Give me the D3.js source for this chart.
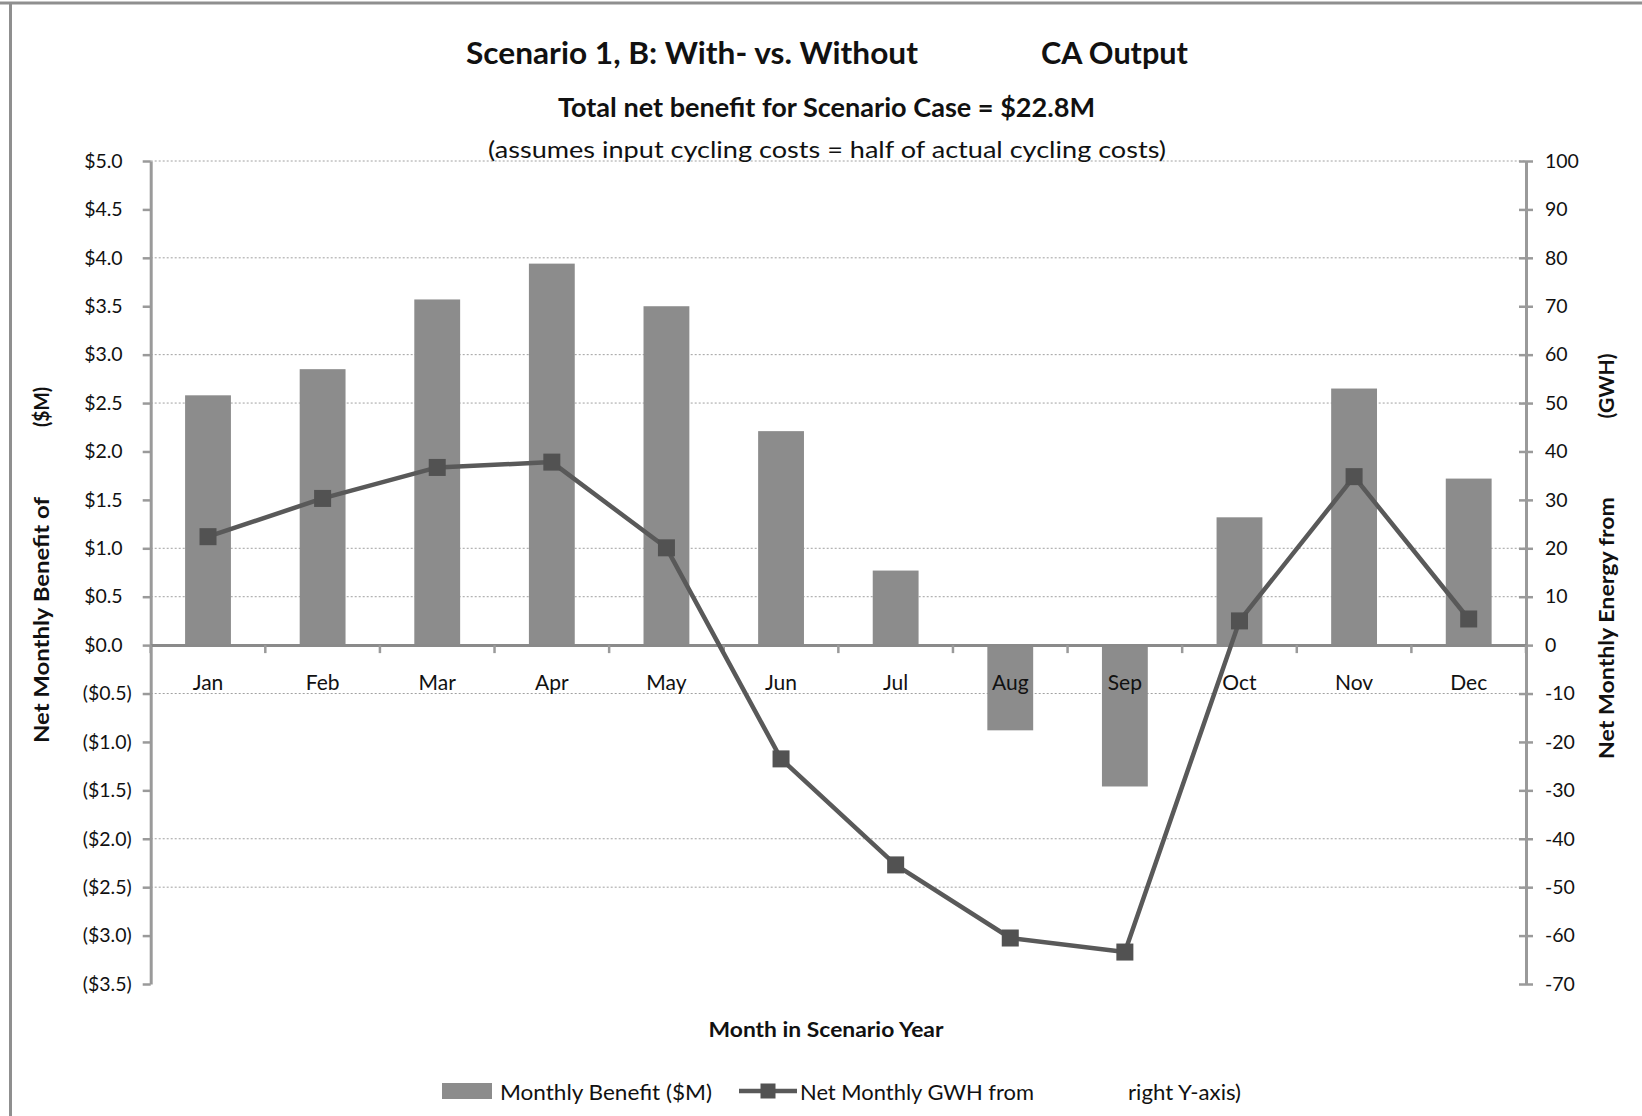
<!DOCTYPE html>
<html>
<head>
<meta charset="utf-8">
<script src="https://cdn.jsdelivr.net/npm/d3@7"></script>
<style>
  html, body { margin: 0; padding: 0; background: #ffffff; }
  svg { display: block; font-family: Lato, "Open Sans", sans-serif; }
</style>
</head>
<body>
<svg id="chart" width="1642" height="1116"></svg>
<script>
// Monthly values for the scenario year
const months = ["Jan", "Feb", "Mar", "Apr", "May", "Jun", "Jul", "Aug", "Sep", "Oct", "Nov", "Dec"];
const monthlyBenefit = [2.58, 2.85, 3.57, 3.94, 3.50, 2.21, 0.77, -0.88, -1.46, 1.32, 2.65, 1.72]; // $M
const monthlyGWH = [22.4, 30.3, 36.7, 37.8, 20.1, -23.5, -45.4, -60.5, -63.4, 5.0, 34.8, 5.4];   // GWH

// Axis ticks
const leftTicks = [5.0, 4.5, 4.0, 3.5, 3.0, 2.5, 2.0, 1.5, 1.0, 0.5, 0.0, -0.5, -1.0, -1.5, -2.0, -2.5, -3.0, -3.5];
const rightTicks = [100, 90, 80, 70, 60, 50, 40, 30, 20, 10, 0, -10, -20, -30, -40, -50, -60, -70];
const gridLevels = [5.0, 4.0, 3.0, 2.5, 1.0, 0.5, -0.5, -2.0, -2.5];

// Text
const titleLeft = "Scenario 1, B: With- vs. Without";
const titleRight = "CA Output";
const subtitle = "Total net benefit for Scenario Case = $22.8M";
const note = "(assumes input cycling costs = half of actual cycling costs)";
const leftTitleMain = "Net Monthly Benefit of";
const leftTitleUnit = "($M)";
const rightTitleMain = "Net Monthly Energy from";
const rightTitleUnit = "(GWH)";
const xTitle = "Month in Scenario Year";
const legendBar = "Monthly Benefit ($M)";
const legendLineA = "Net Monthly GWH from";
const legendLineB = "right Y-axis)";

const svg = d3.select("#chart");

const plot = { left: 150.7, right: 1526, top: 161, bottom: 984 };

const x = d3.scaleBand().domain(months).range([plot.left, plot.right])
  .paddingInner(0.6).paddingOuter(0.3);
const yL = d3.scaleLinear().domain([-3.5, 5.0]).range([plot.bottom, plot.top]);
const yR = d3.scaleLinear().domain([-70, 100]).range([plot.bottom, plot.top]);

const gray = "#8c8c8c";
const axisGray = "#9a9a9a";
const textColor = "#111";

// Outer chart border (top and left edges)
svg.append("line").attr("x1", 0).attr("x2", 1642).attr("y1", 3).attr("y2", 3)
  .attr("stroke", "#8f8f8f").attr("stroke-width", 3);
svg.append("line").attr("x1", 10.5).attr("x2", 10.5).attr("y1", 3).attr("y2", 1116)
  .attr("stroke", "#8f8f8f").attr("stroke-width", 3);

// Horizontal gridlines
svg.append("g").selectAll("line").data(gridLevels).join("line")
  .attr("x1", plot.left).attr("x2", plot.right)
  .attr("y1", d => yL(d)).attr("y2", d => yL(d))
  .attr("stroke", "#a0a0a0").attr("stroke-width", 1)
  .attr("stroke-dasharray", "2,2");

// Bars
svg.append("g").selectAll("rect").data(months).join("rect")
  .attr("x", d => x(d))
  .attr("width", x.bandwidth())
  .attr("y", (d, i) => yL(Math.max(0, monthlyBenefit[i])))
  .attr("height", (d, i) => Math.abs(yL(monthlyBenefit[i]) - yL(0)))
  .attr("fill", gray);

// Left axis
const fmtMoney = v => v >= 0 ? "$" + v.toFixed(1) : "($" + (-v).toFixed(1) + ")";
const gL = svg.append("g").attr("transform", `translate(${plot.left},0)`)
  .call(d3.axisLeft(yL).tickValues(leftTicks).tickFormat(fmtMoney)
    .tickSize(8).tickSizeOuter(0).tickPadding(11));
gL.select(".domain").attr("stroke", axisGray).attr("stroke-width", 3);
gL.selectAll(".tick line").attr("stroke", axisGray).attr("stroke-width", 2.5);
gL.selectAll(".tick text")
  .attr("x", d => d >= 0 ? -28 : -19)
  .attr("fill", textColor).style("font-size", "19.5px").style("font-family", "Lato, sans-serif");

// Right axis (plain hyphen for negatives)
const gR = svg.append("g").attr("transform", `translate(${plot.right},0)`)
  .call(d3.axisRight(yR).tickValues(rightTicks).tickFormat(d => String(d))
    .tickSize(7).tickSizeOuter(0).tickPadding(12));
gR.select(".domain").attr("stroke", axisGray).attr("stroke-width", 3);
gR.selectAll(".tick line").attr("x1", -7).attr("stroke", axisGray).attr("stroke-width", 2.5);
gR.selectAll(".tick text")
  .attr("fill", textColor).style("font-size", "19.5px").style("font-family", "Lato, sans-serif");

// Category axis along $0
const y0 = yL(0);
const gX = svg.append("g").attr("transform", `translate(0,${y0})`)
  .call(d3.axisBottom(x).tickSize(0).tickPadding(30));
gX.select(".domain").attr("stroke", "#8a8a8a").attr("stroke-width", 3);
gX.selectAll(".tick text")
  .attr("fill", textColor).style("font-size", "21px").style("font-family", "Lato, sans-serif");
// boundary tick marks between months
const step = x.step();
const bounds = d3.range(months.length + 1).map(i => plot.left + i * step);
gX.append("g").selectAll("line").data(bounds).join("line")
  .attr("x1", d => d).attr("x2", d => d).attr("y1", 0).attr("y2", 8)
  .attr("stroke", axisGray).attr("stroke-width", 2.5);

// Energy line with square markers
const cx = d => x(d) + x.bandwidth() / 2;
const line = d3.line().x((d, i) => cx(months[i])).y(d => yR(d));
svg.append("path").datum(monthlyGWH)
  .attr("d", line).attr("fill", "none")
  .attr("stroke", "#595959").attr("stroke-width", 4.5).attr("stroke-linejoin", "round");
const mk = 17;
svg.append("g").selectAll("rect").data(monthlyGWH).join("rect")
  .attr("x", (d, i) => cx(months[i]) - mk / 2)
  .attr("y", d => yR(d) - mk / 2)
  .attr("width", mk).attr("height", mk)
  .attr("fill", "#525252");

// Text helper: fixed width per label
function label(txt, opts) {
  const t = svg.append("text")
    .attr("x", opts.x).attr("y", opts.y)
    .attr("fill", textColor)
    .attr("text-anchor", opts.anchor || "start")
    .style("font-size", opts.size + "px")
    .style("font-weight", opts.bold ? 700 : 400)
    .text(txt);
  if (opts.rotate) t.attr("transform", `rotate(${opts.rotate},${opts.x},${opts.y})`);
  if (opts.width) t.attr("textLength", opts.width).attr("lengthAdjust", "spacingAndGlyphs");
  return t;
}

// Titles
label(titleLeft, { x: 466, y: 64, size: 31, bold: true, width: 452 });
label(titleRight, { x: 1041, y: 64, size: 31, bold: true, width: 147 });
label(subtitle, { x: 558, y: 117, size: 26, bold: true, width: 537 });
label(note, { x: 488, y: 158, size: 24, width: 678 });

// Axis titles
label(leftTitleMain, { x: 49, y: 620, size: 21, bold: true, anchor: "middle", rotate: -90, width: 246 });
label(leftTitleUnit, { x: 49, y: 407, size: 21, bold: true, anchor: "middle", rotate: -90, width: 40 });
label(rightTitleMain, { x: 1614, y: 628, size: 21, bold: true, anchor: "middle", rotate: -90, width: 262 });
label(rightTitleUnit, { x: 1614, y: 386, size: 21, bold: true, anchor: "middle", rotate: -90, width: 65 });
label(xTitle, { x: 826, y: 1037, size: 20, bold: true, anchor: "middle", width: 235 });

// Legend
const ly = 1091;
svg.append("rect").attr("x", 442).attr("y", ly - 8).attr("width", 50).attr("height", 16).attr("fill", gray);
label(legendBar, { x: 500, y: ly + 9, size: 21, width: 212 });
svg.append("line").attr("x1", 739).attr("x2", 797).attr("y1", ly).attr("y2", ly)
  .attr("stroke", "#595959").attr("stroke-width", 4.5);
svg.append("rect").attr("x", 768 - 7.5).attr("y", ly - 7.5).attr("width", 15).attr("height", 15).attr("fill", "#525252");
label(legendLineA, { x: 800, y: ly + 9, size: 21, width: 234 });
label(legendLineB, { x: 1128, y: ly + 9, size: 21, width: 113 });
</script>
</body>
</html>
